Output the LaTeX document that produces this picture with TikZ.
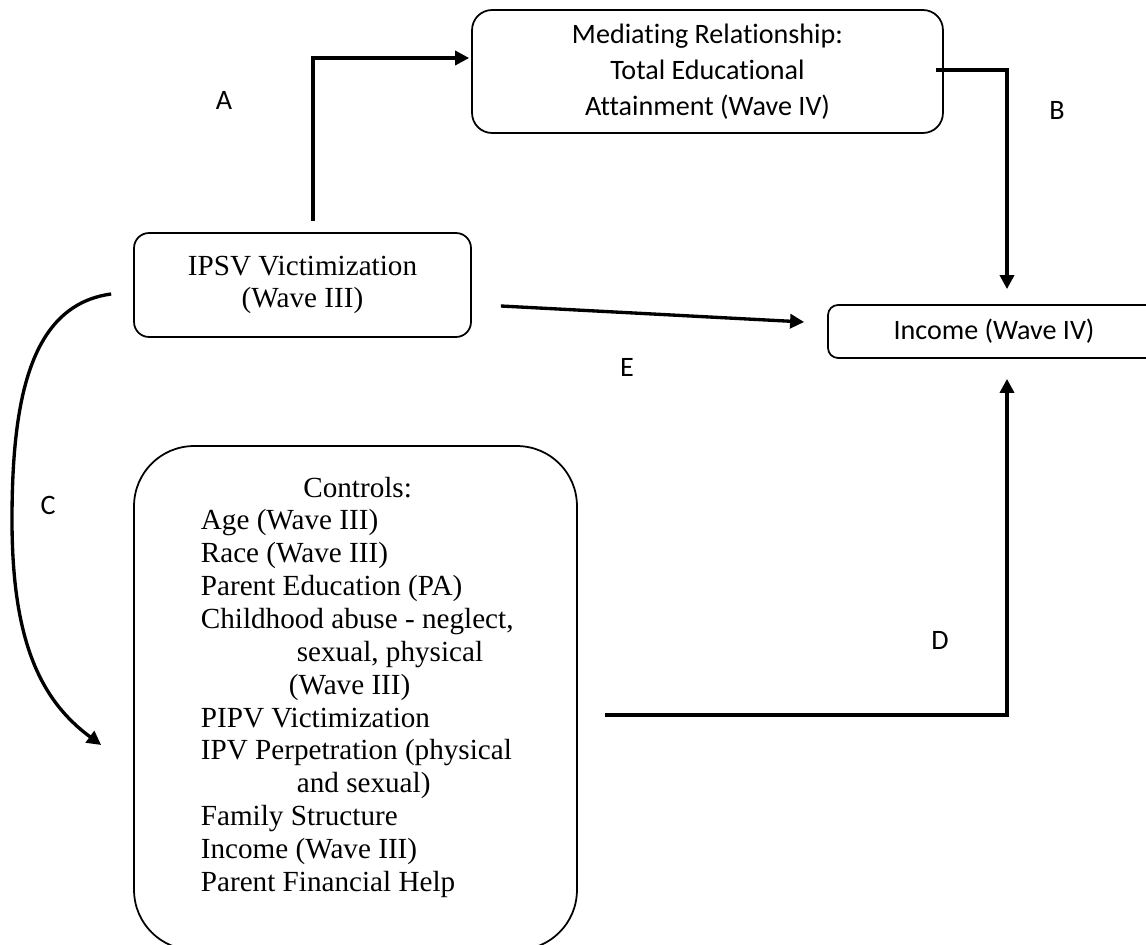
\documentclass[tikz,border=0pt]{standalone}
\usepackage{fontspec}
\setmainfont{Liberation Serif}
\newfontfamily\calibri[Ligatures=NoCommon]{Carlito}
\usepackage{tikz}
\usetikzlibrary{calc, arrows.meta, positioning}

\begin{document}
\begin{tikzpicture}[x=0.02cm, y=-0.02cm, >=Stealth]
		\tikzstyle{sansbox} = [draw=black, line width=1pt, align=center, font=\calibri\fontsize{16}{20.4}\selectfont]
		\tikzstyle{serifbox} = [draw=black, line width=1pt, align=center, font=\fontsize{16.6}{18.7}\selectfont]
		\tikzstyle{letter} = [draw=none, font=\calibri\fontsize{16}{19}\selectfont]
		\tikzstyle{arrow} = [line width=1.9pt, ->, >={Triangle[length=8pt, width=8pt]}]

		\clip (0, 0) rectangle (1146, 945);

		\node[sansbox, rounded corners=0.4cm, minimum width=9.42cm, minimum height=2.46cm]	at (707.5, 71.5)	(med)	{Mediating Relationship:\\Total Educational\\Attainment (Wave IV)};
		\node[serifbox, rounded corners=0.3cm, minimum width=6.74cm, minimum height=2.08cm]	at (302.5, 285)		(ipsv)	{IPSV Victimization\\(Wave III)};
		\node[sansbox, rounded corners=0.2cm, minimum width=6.64cm, minimum height=1.06cm]	at (994, 331.5)		(inc)	{Income (Wave IV)};
		\node[draw=black, line width=1pt, rounded corners=1.2cm, minimum width=8.86cm, minimum height=10.08cm]	at (355.5, 698)	(ctrl)	{};
		\node[serifbox, draw=none, align=left, inner sep=0pt, anchor=north west]	at (200, 476)	(ctrltxt)
			{\hspace*{2.05cm}Controls:\\
			Age (Wave III)\\
			Race (Wave III)\\
			Parent Education (PA)\\
			Childhood abuse - neglect,\\
			\hspace*{1.92cm}sexual, physical\\
			\hspace*{1.76cm}(Wave III)\\
			PIPV Victimization\\
			IPV Perpetration (physical\\
			\hspace*{1.92cm}and sexual)\\
			Family Structure\\
			Income (Wave III)\\
			Parent Financial Help};

		\node[letter]	at (224, 100)	(la)	{A};
		\node[letter]	at (1057, 110)	(lb)	{B};
		\node[letter]	at (48, 505)	(lc)	{C};
		\node[letter]	at (940, 640)	(ld)	{D};
		\node[letter]	at (627, 367)	(le)	{E};

		% paths
		\draw[arrow] ($(ipsv.north)+(10.5,-11)$) |- ($(med.west)+(-2,-13.5)$);
		\draw[arrow] ($(med.east)+(-8,-1.5)$) -| ($(inc.north)+(13,-15)$);
		\draw[arrow] ($(ipsv.east)+(29,21)$) -- ($(inc.west)+(-23,-9.5)$);
		\draw[arrow] ($(ctrl.east)+(27,17)$) -| ($(inc.south)+(13,20)$);
		\draw[arrow] ($(ipsv.west)+(-22,9)$) .. controls (30, 305) and (12, 400) .. (12, 520)
			.. controls (12, 640) and (40, 700) .. ($(ctrl.west)+(-32,47)$);
	\end{tikzpicture}
\end{document}
